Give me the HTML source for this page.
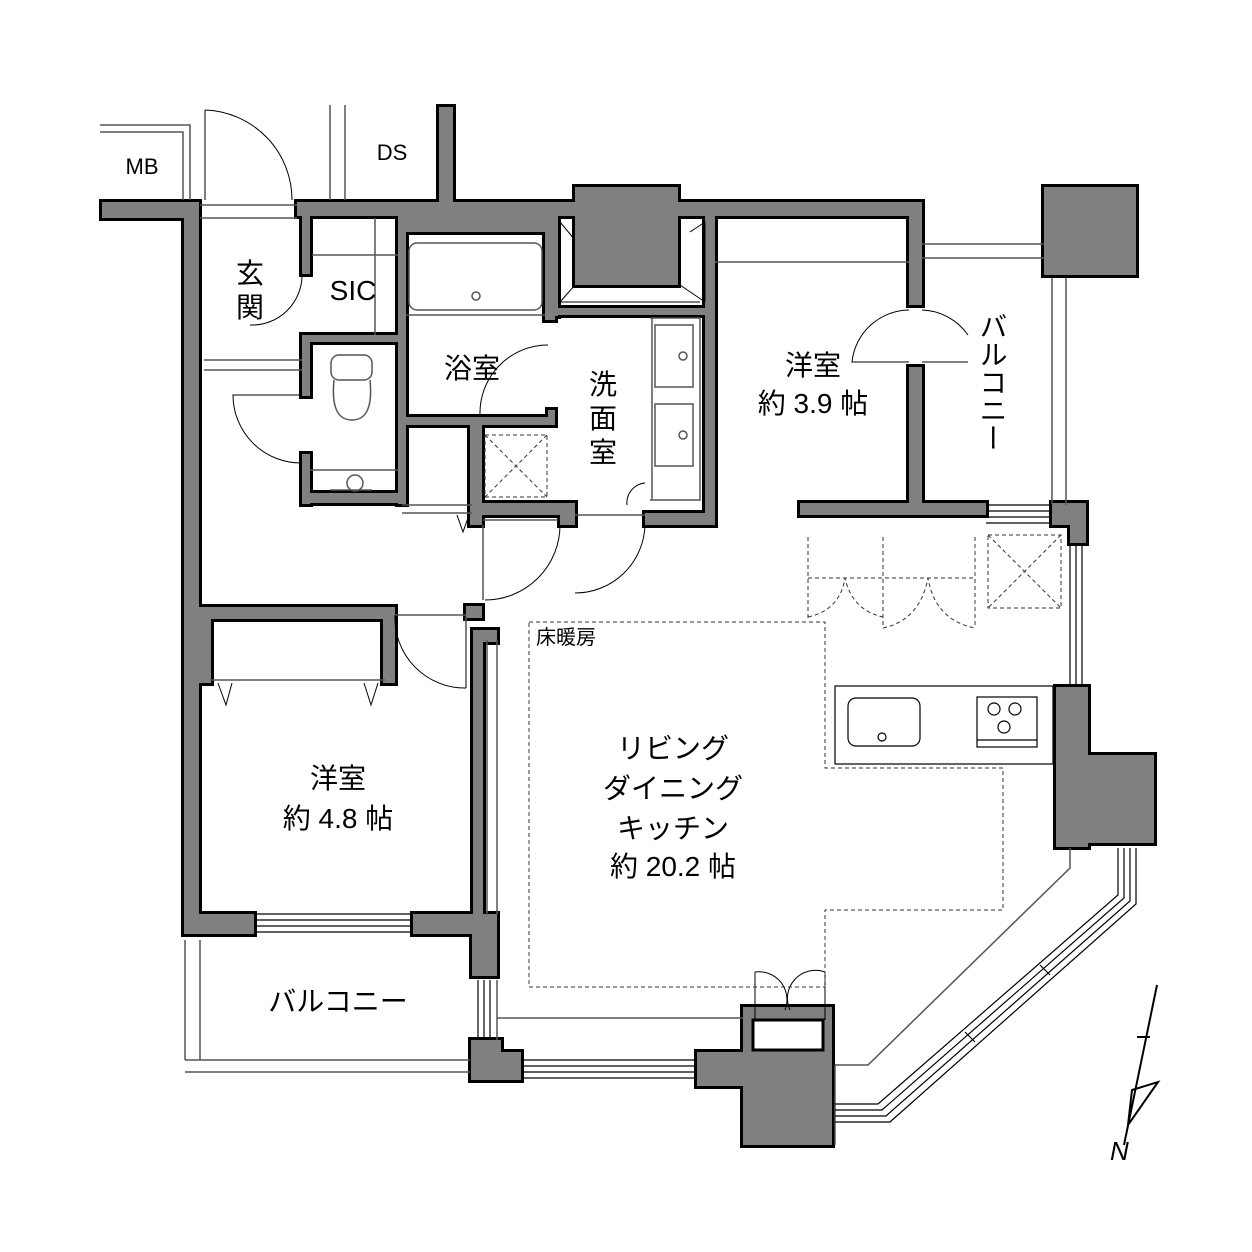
<!DOCTYPE html>
<html><head><meta charset="utf-8"><style>
html,body{margin:0;padding:0;background:#fff}
svg{display:block}
text{font-family:"Liberation Sans","Noto Sans CJK JP",sans-serif;fill:#000}
</style></head><body>
<svg width="1252" height="1252" viewBox="0 0 1252 1252" xmlns="http://www.w3.org/2000/svg">
<defs>
<g id="W">
<rect x="102" y="202" width="83" height="16"/>
<rect x="184" y="202" width="15" height="730"/>
<rect x="297" y="202" width="625" height="14"/>
<rect x="575" y="187" width="103" height="98"/>
<rect x="439" y="107" width="14" height="95"/>
<rect x="909" y="202" width="13" height="103"/>
<rect x="909" y="367" width="13" height="148"/>
<rect x="800" y="503" width="186" height="12"/>
<rect x="1044" y="187" width="92" height="88"/>
<rect x="1052" y="503" width="34" height="22"/>
<rect x="1070" y="503" width="16" height="40"/>
<rect x="1056" y="687" width="32" height="160"/>
<rect x="1056" y="755" width="98" height="88"/>
<rect x="302" y="216" width="8" height="58"/>
<rect x="302" y="338" width="8" height="58"/>
<rect x="302" y="454" width="8" height="50"/>
<rect x="302" y="493" width="100" height="10"/>
<rect x="302" y="335" width="98" height="7"/>
<rect x="398" y="216" width="8" height="288"/>
<rect x="398" y="216" width="152" height="16"/>
<rect x="545" y="216" width="10" height="104"/>
<rect x="548" y="410" width="7" height="14"/>
<rect x="398" y="417" width="157" height="8"/>
<rect x="553" y="308" width="160" height="7"/>
<rect x="553" y="216" width="5" height="100"/>
<rect x="705" y="216" width="10" height="308"/>
<rect x="470" y="420" width="12" height="105"/>
<rect x="470" y="503" width="105" height="12"/>
<rect x="560" y="503" width="15" height="22"/>
<rect x="645" y="513" width="70" height="12"/>
<rect x="199" y="607" width="196" height="12"/>
<rect x="383" y="607" width="12" height="76"/>
<rect x="199" y="607" width="12" height="76"/>
<rect x="466" y="606" width="16" height="12"/>
<rect x="473" y="630" width="24" height="12"/>
<rect x="473" y="630" width="10" height="285"/>
<rect x="184" y="914" width="70" height="20"/>
<rect x="413" y="914" width="84" height="20"/>
<rect x="472" y="914" width="25" height="62"/>
<rect x="471" y="1040" width="30" height="40"/>
<rect x="471" y="1052" width="50" height="28"/>
<rect x="697" y="1052" width="50" height="34"/>
<rect x="743" y="1007" width="89" height="138"/>
</g>
</defs>
<use href="#W" fill="#000" stroke="#000" stroke-width="6"/>
<use href="#W" fill="#808080" stroke="none"/>
<rect x="753" y="1020" width="70" height="30" fill="#fff" stroke="#000" stroke-width="3"/>
<g stroke="#555" stroke-width="1.5" fill="none">
<path d="M100 125H190V200M100 132H183V200"/>
<path d="M205 110V200M330 105V200M345 105V200"/>
<path d="M200 218H297M200 205H297"/>
<path d="M204 360H302M204 370H302"/>
<path d="M312 255H398M375 218V335M310 470H398"/>
<path d="M406 315H545"/>
<rect x="409" y="243" width="133" height="67" rx="8"/>
<circle cx="476" cy="296" r="4"/>
<rect x="331" y="355" width="41" height="25" rx="8"/>
<path d="M334 380Q330 420 352 420Q374 420 370 380"/>
<circle cx="355" cy="483" r="8"/>
<path d="M330 490H372"/>
<path d="M652 318V500M650 318H700V500H650"/>
<rect x="655" y="325" width="38" height="62"/>
<rect x="655" y="404" width="38" height="62"/>
<circle cx="683" cy="356" r="4"/><circle cx="683" cy="435" r="4"/>
<path d="M715 262H909M922 244H1044M922 258H1044M1052 278V505M1066 278V505"/>
<path d="M402 505H472M402 513H472M483 525V600M575 515H645M483 520H558"/>
<path d="M210 680H385M395 615H466M466 615V688"/>
<path d="M497 640V915M487 640V915"/>
<path d="M185 940V1060M200 940V1060M185 1060H470M185 1072H470"/>
<path d="M497 980V1040M497 1018H743M835 1065V1145"/>
<path d="M1070 848V868L868 1065H835"/>
</g>
<g stroke="#000" stroke-width="1.2" fill="none">
<path d="M255 914H413M255 920H413M255 926H413M255 932H413"/>
<path d="M478 980V1040M484 980V1040M490 980V1040"/>
<path d="M521 1060H697M521 1066H697M521 1072H697M521 1078H697"/>
<path d="M986 505H1052M986 511H1052M986 517H1052M986 523H1052"/>
<path d="M1070 545V687M1076 545V687M1082 545V687"/>
<path d="M1118 848V895L878 1104H835"/>
<path d="M1124 848V898L882 1110H835"/>
<path d="M1130 848V901L886 1116H835"/>
<path d="M1136 848V904L890 1122H835"/>
<path d="M1040 965L1050 975M965 1032L975 1042"/>
</g>
<g stroke="#000" stroke-width="1" fill="none">
<path d="M205 110A90 90 0 0 1 292 200"/>
<path d="M302 274A50 50 0 0 1 250 325"/>
<path d="M302 395H233A68 68 0 0 0 302 463"/>
<path d="M548 345A68 68 0 0 0 480 415"/>
<path d="M645 483A20 20 0 0 0 627 505"/>
<path d="M560 525A75 75 0 0 1 485 600"/>
<path d="M645 525A70 70 0 0 1 575 593"/>
<path d="M395 615A70 70 0 0 0 466 688"/>
<path d="M909 310A58 58 0 0 0 852 362H909M922 310A58 58 0 0 1 968 335M922 362H968"/>
<path d="M755 972A28 28 0 0 1 785 1010M825 972A28 28 0 0 0 790 1010M755 972V1020M825 972V1020"/>
<path d="M218 683L226 705L232 683M364 683L371 705L378 683M457 515L463 532L469 515"/>
</g>
<g stroke="#333" stroke-width="1" fill="none" stroke-dasharray="4 3">
<path d="M529 622H825V768H1003V910H825V987H529Z"/>
<path d="M808 537V620M883 537V628M975 537V628M808 578H975"/>
<path d="M808 617Q840 610 845 578Q852 610 883 617M883 628Q920 620 928 578Q935 620 975 628"/>
<rect x="988" y="535" width="73" height="73"/>
<path d="M988 535L1061 608M1061 535L988 608"/>
<rect x="485" y="435" width="62" height="62"/>
<path d="M485 435L547 497M547 435L485 497"/>
</g>
<g stroke="#000" stroke-width="1.2" fill="none">
<rect x="835" y="686" width="218" height="78"/>
<rect x="848" y="698" width="72" height="48" rx="8"/>
<circle cx="882" cy="737" r="4"/>
<rect x="977" y="697" width="60" height="50"/>
<path d="M977 740H1037"/>
<circle cx="994" cy="709" r="6"/><circle cx="1015" cy="709" r="6"/><circle cx="1004" cy="727" r="6"/>
</g>
<g stroke="#000" stroke-width="1" fill="none">
<path d="M560 222V302H573M560 302L575 285M560 222L575 240M705 222V302M705 302L680 285M705 222L690 232M562 302H700"/>
</g>
<g stroke="#000" stroke-width="2" fill="none">
<path d="M1157 985L1124 1145M1137 1037H1150M1132 1090L1158 1082L1128 1125Z"/>
</g>
<text x="1110" y="1160" font-size="26" font-style="italic">N</text>
<g font-size="28">
<text x="142" y="174" font-size="22" text-anchor="middle">MB</text>
<text x="392" y="160" font-size="22" text-anchor="middle">DS</text>
<text x="250" y="283" text-anchor="middle">玄</text>
<text x="250" y="317" text-anchor="middle">関</text>
<text x="353" y="300" text-anchor="middle">SIC</text>
<text x="472" y="378" text-anchor="middle">浴室</text>
<text x="603" y="394" text-anchor="middle">洗</text>
<text x="603" y="428" text-anchor="middle">面</text>
<text x="603" y="462" text-anchor="middle">室</text>
<text x="813" y="375" text-anchor="middle">洋室</text>
<text x="813" y="413" text-anchor="middle">約 3.9 帖</text>
<text x="992" y="312" writing-mode="tb" glyph-orientation-vertical="0">バルコニー</text>
<text x="566" y="644" font-size="20" text-anchor="middle">床暖房</text>
<text x="673" y="758" text-anchor="middle">リビング</text>
<text x="673" y="798" text-anchor="middle">ダイニング</text>
<text x="673" y="838" text-anchor="middle">キッチン</text>
<text x="673" y="876" text-anchor="middle">約 20.2 帖</text>
<text x="338" y="788" text-anchor="middle">洋室</text>
<text x="338" y="828" text-anchor="middle">約 4.8 帖</text>
<text x="338" y="1011" text-anchor="middle">バルコニー</text>
</g>
</svg>
</body></html>
